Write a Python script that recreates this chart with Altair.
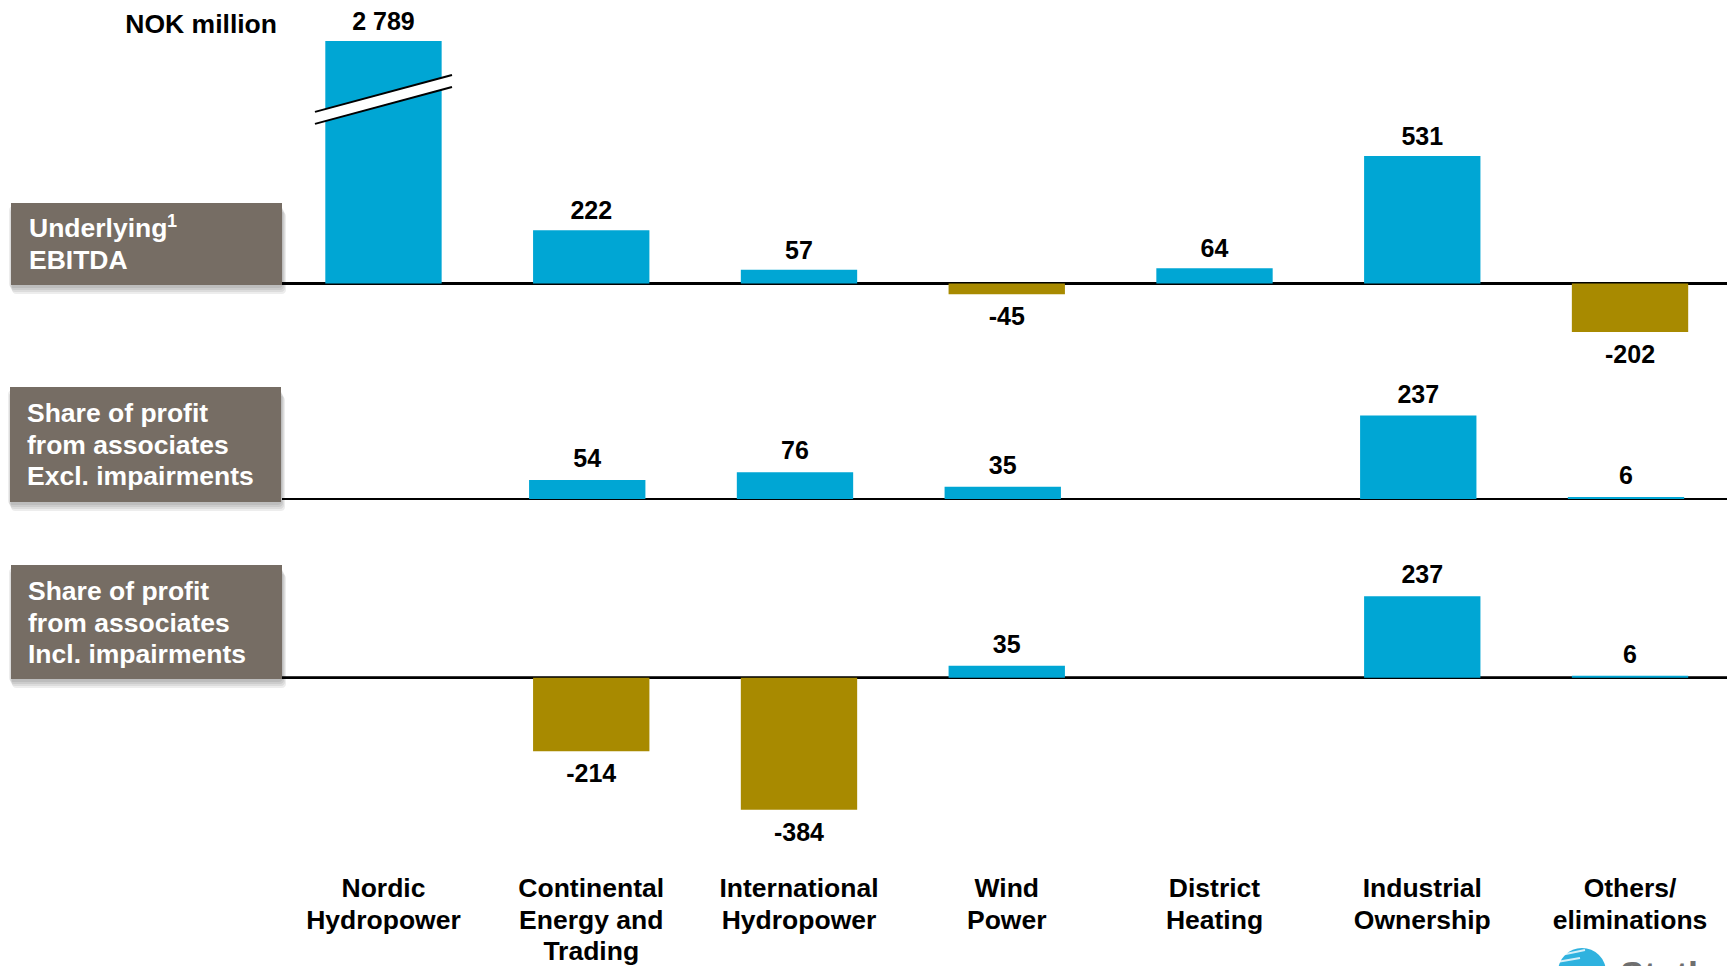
import altair as alt
import pandas as pd

# ---- data -------------------------------------------------------------
segments = [
    "Nordic Hydropower",
    "Continental Energy and Trading",
    "International Hydropower",
    "Wind Power",
    "District Heating",
    "Industrial Ownership",
    "Others/ eliminations",
]
segment_lines = [
    "Nordic\nHydropower",
    "Continental\nEnergy and\nTrading",
    "International\nHydropower",
    "Wind\nPower",
    "District\nHeating",
    "Industrial\nOwnership",
    "Others/\neliminations",
]
underlying_ebitda = [2789, 222, 57, -45, 64, 531, -202]
associates_excl = [None, 54, 76, 35, None, 237, 6]
associates_incl = [None, -214, -384, 35, None, 237, 6]

row_titles = [
    ["Underlying", "EBITDA"],
    ["Share of profit", "from associates", "Excl. impairments"],
    ["Share of profit", "from associates", "Incl. impairments"],
]

# ---- style --------------------------------------------------------------
BLUE = "#00A6D4"
GOLD = "#A88A00"
BOX = "#766D64"
FONT = "Liberation Sans"
W, H = 1727, 966

x_scale = alt.Scale(domain=segments, range=[279.6, 1733.9],
                    paddingInner=0.44, paddingOuter=0.22)


def xenc():
    return alt.X("segment:N", scale=x_scale, axis=None, sort=segments)


def fmt(v):
    return f"{int(v):,}".replace(",", " ")


def section(values, zero_px, ppu, lo, hi, shift=0, pos_dy=-11, neg_dy=31):
    df = pd.DataFrame({"segment": segments, "value": values}).dropna()
    df["label"] = df["value"].map(fmt)
    y_scale = alt.Scale(domain=[lo, hi],
                        range=[zero_px - lo * ppu, zero_px - hi * ppu],
                        clamp=True, nice=False, zero=False)
    y = alt.Y("value:Q", scale=y_scale, axis=None)
    base = alt.Chart(df)
    axis_line = base.mark_rule(color="black", strokeWidth=2).encode(
        x=alt.value(282), x2=alt.value(W),
        y=alt.YDatum(0, scale=y_scale, axis=None),
    )
    bars = base.mark_bar(xOffset=shift).encode(
        x=xenc(), y=y, y2=alt.datum(0),
        color=alt.condition(alt.datum.value < 0, alt.value(GOLD), alt.value(BLUE)),
    )
    pos = base.transform_filter(alt.datum.value >= 0).mark_text(
        font=FONT, fontWeight="bold", fontSize=25, baseline="alphabetic",
        dy=pos_dy, dx=shift, color="black",
    ).encode(x=xenc(), y=y, text="label:N")
    neg = base.transform_filter(alt.datum.value < 0).mark_text(
        font=FONT, fontWeight="bold", fontSize=25, baseline="alphabetic",
        dy=neg_dy, dx=shift, color="black",
    ).encode(x=xenc(), y=y, text="label:N")
    return [axis_line, bars, pos, neg], y_scale


# row 1: Underlying EBITDA (tall bar broken at the top)
row1, ys1 = section(underlying_ebitda, 283.5, 0.240, -300, 1010)
brk = pd.DataFrame({"segment": [segments[0]], "a": [690], "b": [844]})
brk_layers = []
for color, width, off in [("white", 11, 0), ("black", 2, -6), ("black", 2, 6)]:
    brk_layers.append(alt.Chart(brk).mark_rule(
        color=color, strokeWidth=width, strokeCap="butt",
        xOffset=-68.5, x2Offset=68.5, yOffset=off, y2Offset=off,
    ).encode(
        x=xenc(), x2="segment:N",
        y=alt.Y("a:Q", scale=ys1, axis=None), y2="b:Q",
    ))

row2, _ = section(associates_excl, 499, 0.352, -420, 300, shift=-4, pos_dy=-13)
row3, _ = section(associates_incl, 677.7, 0.344, -420, 300, pos_dy=-13)

# ---- left row-title boxes ---------------------------------------------
anchor = alt.Chart(pd.DataFrame({"k": [0]}))
boxes = [  # x0, x1, y0, y1, text x, first baseline
    (11, 282, 203, 285, 29, 237),
    (10, 281, 387, 502, 27, 422),
    (11, 282, 565, 679, 28, 600),
]
box_layers = []
for (x0, x1b, y0, y1b, tx, ty), title in zip(boxes, row_titles):
    for dx, dy in [(1, 3), (2, 5), (3, 7), (4, 9)]:
        box_layers.append(anchor.mark_rect(color="black", opacity=0.07, cornerRadius=4).encode(
            x=alt.value(x0 + dx - 3), x2=alt.value(x1b + dx),
            y=alt.value(y0 + dy), y2=alt.value(y1b + dy)))
    box_layers.append(anchor.mark_rect(color=BOX).encode(
        x=alt.value(x0), x2=alt.value(x1b), y=alt.value(y0), y2=alt.value(y1b)))
    for i, line in enumerate(title):
        box_layers.append(anchor.mark_text(
            text=line, font=FONT, fontWeight="bold", fontSize=26.5, color="white",
            align="left", baseline="alphabetic",
        ).encode(x=alt.value(tx), y=alt.value(ty + i * 31.5)))
# superscript footnote marker
box_layers.append(anchor.mark_text(
    text="1", font=FONT, fontWeight="bold", fontSize=18, color="white",
    align="left", baseline="alphabetic").encode(x=alt.value(167), y=alt.value(227)))

unit_label = anchor.mark_text(
    text="NOK million", font=FONT, fontWeight="bold", fontSize=26.5, color="black",
    align="right", baseline="alphabetic").encode(x=alt.value(277), y=alt.value(33))

# ---- category labels along the bottom ----------------------------------
cat_df = pd.DataFrame({"segment": segments, "name": segment_lines})
cat_labels = alt.Chart(cat_df).mark_text(
    font=FONT, fontWeight="bold", fontSize=26.5, color="black",
    baseline="alphabetic", lineBreak="\n", lineHeight=31.5,
).encode(x=xenc(), y=alt.value(897), text="name:N")

# ---- corner logo ----------------------------------------------------------
logo_mark = anchor.mark_point(filled=True, shape="circle", size=2300,
                              color="#2FB2DF", opacity=1).encode(
    x=alt.value(1582), y=alt.value(972))
logo_streaks = [
    anchor.mark_rule(color="white", strokeWidth=2, opacity=0.8).encode(
        x=alt.value(x0), x2=alt.value(x1l), y=alt.value(y0l), y2=alt.value(y1l))
    for x0, x1l, y0l, y1l in [(1561, 1585, 955, 950), (1557, 1580, 962, 958)]
]
logo_text = anchor.mark_text(
    text="Statkraft", font=FONT, fontWeight="bold", fontSize=36, color="#6F6F6F",
    align="left", baseline="alphabetic").encode(x=alt.value(1620), y=alt.value(988))

chart = alt.layer(
    *box_layers, unit_label, *row1, *brk_layers, *row2, *row3,
    cat_labels, logo_mark, *logo_streaks, logo_text
).resolve_scale(y="independent").properties(
    width=W, height=H, padding=0, autosize=alt.AutoSizeParams(type="none"),
    background="white",
).configure_view(stroke=None)

chart.save("out.html", embed_options={"renderer": "svg", "actions": False})
